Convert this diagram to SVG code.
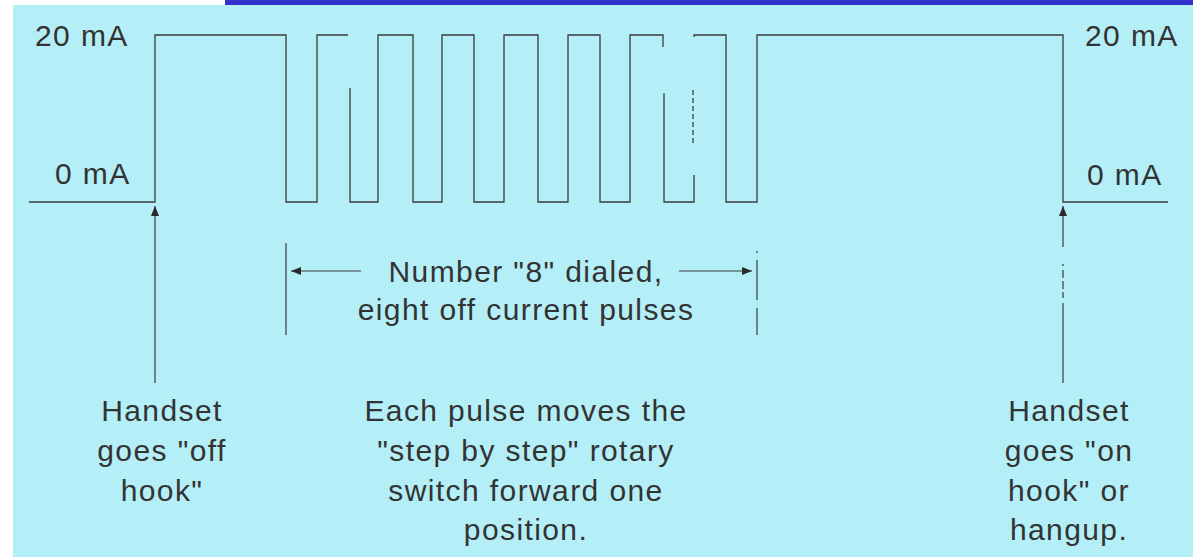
<svg xmlns="http://www.w3.org/2000/svg" width="1193" height="557" viewBox="0 0 1193 557">
  <style>
    .wave { fill: none; stroke: #3a3a3a; stroke-width: 1.3; stroke-linejoin: miter; }
    .lead { fill: none; stroke: #3a3a3a; stroke-width: 1.2; }
    .lbl { font-family: "Liberation Sans", Arial, sans-serif; font-size: 30px; fill: #333333; letter-spacing: 1.4px; }
    .mid { text-anchor: middle; }
  </style>
  <defs>
    <marker id="head" viewBox="0 0 10 8" refX="10" refY="4" markerWidth="10" markerHeight="8" markerUnits="userSpaceOnUse" orient="auto">
      <path d="M0,0 L10,4 L0,8 Z" fill="#2a2a2a"/>
    </marker>
  </defs>

  <!-- page background, panel and title strip -->
  <rect x="0" y="0" width="1193" height="557" fill="#ffffff"/>
  <rect x="13" y="5" width="1180" height="552" fill="#b4eff7"/>
  <rect x="225" y="0" width="968" height="5" fill="#3333cc"/>

  <!-- level labels -->
  <g id="level-20-left"><text class="lbl" x="35" y="46">20 mA</text></g>
  <g id="level-0-left"><text class="lbl" x="55" y="184">0 mA</text></g>
  <g id="level-20-right"><text class="lbl" x="1085" y="46">20 mA</text></g>
  <g id="level-0-right"><text class="lbl" x="1087" y="185">0 mA</text></g>

  <!-- loop current waveform -->
  <g id="waveform" class="wave">
    <path d="M29,202 H155 V35 H286 V202 H317 V35 H348"/>
    <path d="M350,88 V202 H378 V35 H413 V202 H442 V35 H474 V202 H504 V35 H538 V202 H568 V35 H600 V202 H630 V35 H663 V47"/>
    <path d="M664,93 V202 H694 V175"/>
    <path d="M693,143 V90" stroke-dasharray="5 3"/>
    <path d="M694,37 V35 H726 V202 H757 V35 H1063 V202 H1168"/>
  </g>

  <!-- annotation leaders -->
  <g id="connectors" class="lead">
    <!-- off hook pointer -->
    <line x1="155" y1="383" x2="155" y2="206" marker-end="url(#head)"/>
    <!-- on hook pointer -->
    <line x1="1063" y1="247" x2="1063" y2="206" marker-end="url(#head)"/>
    <line x1="1063" y1="264" x2="1063" y2="266"/>
    <line x1="1063" y1="270" x2="1063" y2="298" stroke-dasharray="8 3"/>
    <line x1="1063" y1="303" x2="1063" y2="383"/>
    <!-- dialed span dimension -->
    <line x1="286" y1="243" x2="286" y2="335"/>
    <line x1="361" y1="271" x2="291" y2="271" marker-end="url(#head)"/>
    <line x1="679" y1="271" x2="752" y2="271" marker-end="url(#head)"/>
    <line x1="757" y1="251" x2="757" y2="253"/>
    <line x1="757" y1="260" x2="757" y2="300"/>
    <line x1="757" y1="308" x2="757" y2="335"/>
  </g>

  <!-- captions -->
  <g id="dial-span-label">
    <text class="lbl mid" x="526" y="282">Number "8" dialed,</text>
    <text class="lbl mid" x="526" y="320">eight off current pulses</text>
  </g>
  <g id="off-hook-note">
    <text class="lbl mid" x="162" y="421">Handset</text>
    <text class="lbl mid" x="162" y="461">goes "off</text>
    <text class="lbl mid" x="162" y="501">hook"</text>
  </g>
  <g id="pulse-note">
    <text class="lbl mid" x="526" y="421">Each pulse moves the</text>
    <text class="lbl mid" x="526" y="461">"step by step" rotary</text>
    <text class="lbl mid" x="526" y="501">switch forward one</text>
    <text class="lbl mid" x="526" y="540">position.</text>
  </g>
  <g id="on-hook-note">
    <text class="lbl mid" x="1069" y="421">Handset</text>
    <text class="lbl mid" x="1069" y="461">goes "on</text>
    <text class="lbl mid" x="1069" y="501">hook" or</text>
    <text class="lbl mid" x="1069" y="540">hangup.</text>
  </g>
</svg>
